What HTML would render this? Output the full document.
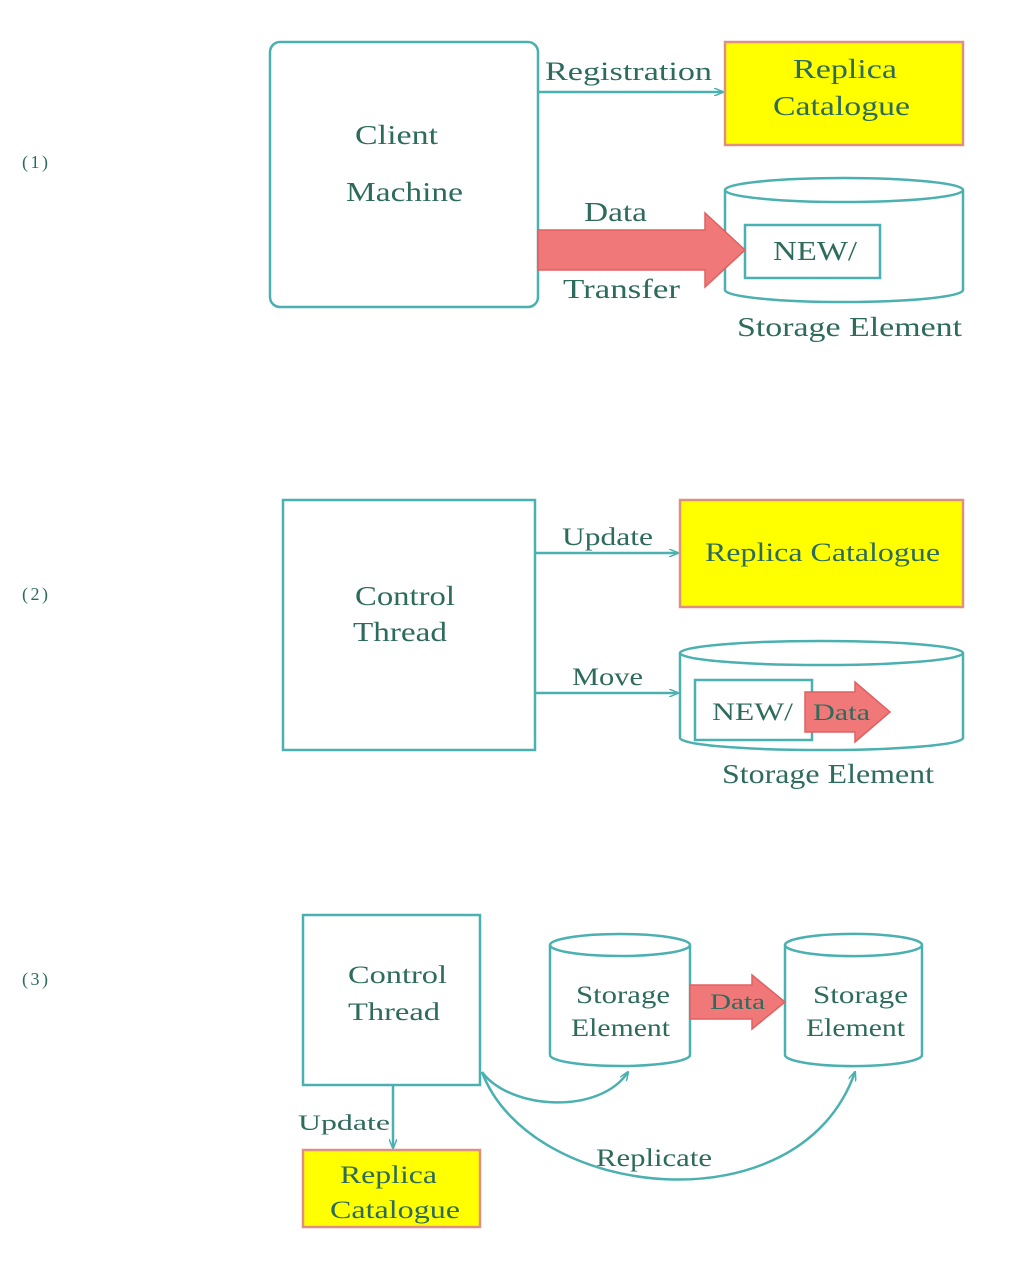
<!DOCTYPE html>
<html><head><meta charset="utf-8"><style>
html,body{margin:0;padding:0;background:#fff;}
svg{display:block;}
text{font-family:"Liberation Serif",serif;fill:#2d6b5c;}
</style></head><body>
<svg width="1017" height="1273" viewBox="0 0 1017 1273" xmlns="http://www.w3.org/2000/svg">
<defs>
<marker id="ah" markerWidth="10" markerHeight="8" refX="9" refY="4" orient="auto" markerUnits="userSpaceOnUse">
<path d="M0,0 L10,4 L0,8" fill="none" stroke="#4ab0b0" stroke-width="1.5"/>
</marker>
</defs>
<g stroke="#4ab0b0" stroke-width="2.5" fill="none">
<rect x="270" y="42" width="268" height="265" rx="10"/>
<line x1="538" y1="92" x2="723" y2="92" marker-end="url(#ah)"/>
<path d="M725,190 A119,12 0 0 1 963,190 L963,290 A119,12 0 0 1 725,290 Z"/>
<path d="M725,190 A119,12 0 0 0 963,190"/>
<rect x="745" y="225" width="135" height="53"/>
<rect x="283" y="500" width="252" height="250"/>
<line x1="535" y1="553" x2="678" y2="553" marker-end="url(#ah)"/>
<line x1="535" y1="693" x2="678" y2="693" marker-end="url(#ah)"/>
<path d="M680,653 A141,12 0 0 1 963,653 L963,738 A141,12 0 0 1 680,738 Z"/>
<path d="M680,653 A141,12 0 0 0 963,653"/>
<rect x="695" y="680" width="117" height="60"/>
<rect x="303" y="915" width="177" height="170"/>
<line x1="393" y1="1085" x2="393" y2="1148" marker-end="url(#ah)"/>
<path d="M550,945 A70,11 0 0 1 690,945 L690,1055 A70,11 0 0 1 550,1055 Z"/>
<path d="M550,945 A70,11 0 0 0 690,945"/>
<path d="M785,945 A68,11 0 0 1 922,945 L922,1055 A68,11 0 0 1 785,1055 Z"/>
<path d="M785,945 A68,11 0 0 0 922,945"/>
<path d="M482,1072 C510,1110 600,1115 628,1072" marker-end="url(#ah)"/>
<path d="M482,1072 C530,1200 800,1230 855,1072" marker-end="url(#ah)"/>
</g>
<g fill="#ffff00" stroke="#e09080" stroke-width="2.5">
<rect x="725" y="42" width="238" height="103"/>
<rect x="680" y="500" width="283" height="107"/>
<rect x="303" y="1150" width="177" height="77"/>
</g>
<g fill="#f07878" stroke="#e06060" stroke-width="1.5">
<path d="M538,230 L705,230 L705,213 L745,250 L705,287 L705,270 L538,270 Z"/>
<path d="M805,692 L855,692 L855,682 L890,712 L855,742 L855,732 L805,732 Z"/>
<path d="M690,985 L752,985 L752,975 L785,1002 L752,1029 L752,1019 L690,1019 Z"/>
</g>
<g font-size="27" lengthAdjust="spacingAndGlyphs">
<text x="22" y="168" font-size="18" textLength="26">(1)</text>
<text x="22" y="600" font-size="18" textLength="26">(2)</text>
<text x="22" y="985" font-size="18" textLength="26">(3)</text>
<text x="355" y="144" textLength="83" lengthAdjust="spacingAndGlyphs">Client</text>
<text x="346" y="201" textLength="117" lengthAdjust="spacingAndGlyphs">Machine</text>
<text x="545" y="80" font-size="26" textLength="167" lengthAdjust="spacingAndGlyphs">Registration</text>
<text x="793" y="78" textLength="104" lengthAdjust="spacingAndGlyphs">Replica</text>
<text x="773" y="115" textLength="137" lengthAdjust="spacingAndGlyphs">Catalogue</text>
<text x="584" y="221" textLength="63" lengthAdjust="spacingAndGlyphs">Data</text>
<text x="563" y="298" textLength="117" lengthAdjust="spacingAndGlyphs">Transfer</text>
<text x="773" y="260" textLength="84" lengthAdjust="spacingAndGlyphs">NEW/</text>
<text x="737" y="336" textLength="225" lengthAdjust="spacingAndGlyphs">Storage Element</text>
<text x="355" y="605" textLength="100" lengthAdjust="spacingAndGlyphs">Control</text>
<text x="353" y="641" textLength="94" lengthAdjust="spacingAndGlyphs">Thread</text>
<text x="562" y="545" font-size="25" textLength="91" lengthAdjust="spacingAndGlyphs">Update</text>
<text x="705" y="561" font-size="26" textLength="235" lengthAdjust="spacingAndGlyphs">Replica Catalogue</text>
<text x="572" y="685" font-size="25" textLength="71" lengthAdjust="spacingAndGlyphs">Move</text>
<text x="712" y="720" font-size="25" textLength="81" lengthAdjust="spacingAndGlyphs">NEW/</text>
<text x="813" y="720" font-size="23" textLength="57" lengthAdjust="spacingAndGlyphs">Data</text>
<text x="722" y="783" textLength="212" lengthAdjust="spacingAndGlyphs">Storage Element</text>
<text x="348" y="983" font-size="25" textLength="99" lengthAdjust="spacingAndGlyphs">Control</text>
<text x="348" y="1020" font-size="25" textLength="92" lengthAdjust="spacingAndGlyphs">Thread</text>
<text x="298" y="1130" font-size="22" textLength="92" lengthAdjust="spacingAndGlyphs">Update</text>
<text x="340" y="1183" font-size="25" textLength="97" lengthAdjust="spacingAndGlyphs">Replica</text>
<text x="330" y="1218" font-size="25" textLength="130" lengthAdjust="spacingAndGlyphs">Catalogue</text>
<text x="576" y="1003" font-size="25" textLength="94" lengthAdjust="spacingAndGlyphs">Storage</text>
<text x="571" y="1036" font-size="25" textLength="99" lengthAdjust="spacingAndGlyphs">Element</text>
<text x="710" y="1009" font-size="22" textLength="55" lengthAdjust="spacingAndGlyphs">Data</text>
<text x="813" y="1003" font-size="25" textLength="95" lengthAdjust="spacingAndGlyphs">Storage</text>
<text x="806" y="1036" font-size="25" textLength="99" lengthAdjust="spacingAndGlyphs">Element</text>
<text x="596" y="1166" font-size="25" textLength="116" lengthAdjust="spacingAndGlyphs">Replicate</text>
</g>
</svg>
</body></html>
